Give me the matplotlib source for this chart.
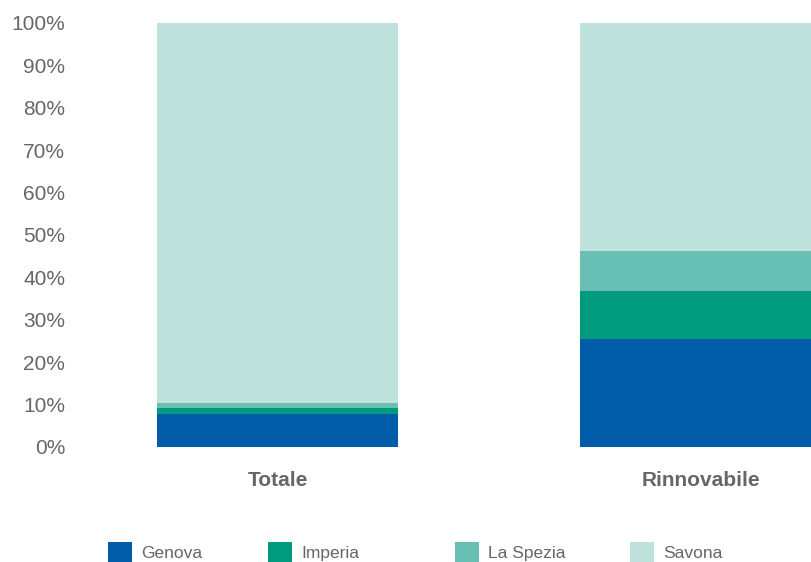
import matplotlib
matplotlib.use("Agg")
import matplotlib.pyplot as plt
import numpy as np
from matplotlib.ticker import PercentFormatter

plt.rcParams["font.family"] = ["Liberation Sans", "DejaVu Sans"]

# ── data ──────────────────────────────────────────────
categories = ["Totale", "Rinnovabile"]
provinces = ["Genova", "Imperia", "La Spezia", "Savona"]
genova = [7.9, 25.4]
imperia = [1.3, 11.4]
la_spezia = [1.2, 9.4]
savona = [89.6, 53.8]
colors = ["#005CA9", "#009B7E", "#68C0B4", "#BFE2DC"]

TEXT = "#666666"

W, H = 811, 562
fig = plt.figure(figsize=(W / 100, H / 100), dpi=100)
ax = fig.add_axes([75 / W, 115 / H, (W - 75) / W, 424 / H])

x = np.arange(len(categories))
bottom = np.zeros(len(categories))
bars = []
for name, vals, c in zip(provinces, [genova, imperia, la_spezia, savona], colors):
    b = ax.bar(x, vals, width=0.57, bottom=bottom, color=c, label=name, linewidth=0)
    bars.append(b)
    bottom += np.array(vals)

ax.set_xlim((75 - 277.5) / 423, (W - 277.5) / 423)
ax.set_ylim(0, 100)
ax.set_yticks(np.arange(0, 101, 10))
ax.yaxis.set_major_formatter(PercentFormatter(decimals=0))
ax.set_xticks(x)
ax.set_xticklabels(categories, fontweight="bold")
ax.tick_params(axis="both", length=0, labelsize=15, labelcolor=TEXT)
ax.tick_params(axis="y", pad=7)
ax.tick_params(axis="x", pad=17)
for s in ax.spines.values():
    s.set_visible(False)

# legend entries sit at uneven spacing in the original, so place each one
legend_x = [108, 268, 455, 630]
for b, name, lx in zip(bars, provinces, legend_x):
    fig.legend([b], [name], loc="lower left", bbox_to_anchor=(lx / W, 0),
               frameon=False, fontsize=12.5, handlelength=1.4, handleheight=1.4,
               handletextpad=0.5, borderpad=0, borderaxespad=0, labelcolor=TEXT)

fig.savefig("out.png", dpi=100)
